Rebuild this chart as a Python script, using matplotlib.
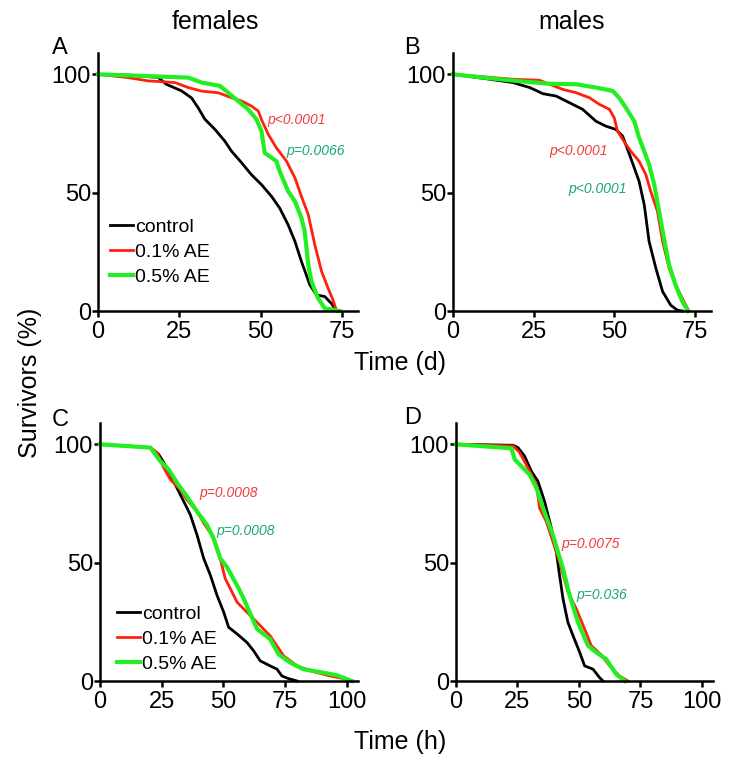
import numpy as np
import matplotlib.pyplot as plt

plt.rcParams['font.family'] = ['Liberation Sans', 'DejaVu Sans']

# Panel A - females, days
a_ctrl_t = [0, 10, 18.5, 21, 25.7, 28.8, 30.8, 32.9, 36, 39, 41.1, 44.2, 47.2, 50.3, 53.4, 55.9, 58.5, 60.6, 62.6, 65.2, 67.2, 69.8, 71.8, 73.4]
a_ctrl_s = [100, 99.6, 98.7, 95.8, 93, 90, 85.9, 81, 76.7, 71.8, 67.5, 62.6, 57.6, 53.4, 48.4, 43.5, 36.4, 29.4, 20.9, 11, 6.8, 6.1, 3.2, 0]
a_low_t = [0, 9.3, 15.5, 19.6, 23.7, 27.8, 31.9, 37, 41.1, 44.2, 47.2, 49.3, 50.3, 52.4, 54.9, 58, 60.6, 62.6, 64.7, 66.7, 68.8, 70.8, 72.3, 73.4]
a_low_s = [100, 98.6, 97.2, 96.9, 96.5, 94.4, 92.9, 92.2, 90.1, 88.7, 86.6, 84.5, 80.9, 74.6, 68.9, 63.3, 56.2, 48.4, 40.7, 28, 16.7, 9.6, 4.7, 0]
a_high_t = [0, 27.8, 31.9, 37.5, 40.1, 43.1, 46.2, 48.8, 50.3, 51.3, 54.9, 55.9, 58.5, 60.6, 62.6, 63.6, 64.7, 65.7, 67.7, 69.8, 74.4]
a_high_s = [100, 98.6, 96.5, 95.1, 92.2, 88.7, 85.2, 80.9, 76, 66.8, 63.3, 59, 50.6, 46.3, 39.3, 33.6, 19.5, 12.4, 5.4, 1.1, 0]

# Panel B - males, days
b_ctrl_t = [0, 9.4, 18.6, 23.8, 27.9, 32, 36.1, 40.2, 44.3, 47.4, 50.5, 52.6, 55.1, 57.7, 59.3, 60.8, 62.9, 65, 67.5, 69.5, 71.1]
b_ctrl_s = [100, 98.3, 96.5, 94.4, 91.8, 90.8, 88, 85.2, 80.2, 78.1, 76.7, 73.9, 64.7, 54.8, 44.9, 29.4, 18.1, 8.2, 2.5, 0.4, 0]
b_low_t = [0, 18.6, 26.8, 29.9, 34.1, 38.2, 42.3, 45.4, 48.5, 50, 51, 52.6, 55.1, 57.7, 59.8, 61.3, 63.4, 65, 67, 69, 71.1, 73.1]
b_low_s = [100, 97.9, 97.5, 95.8, 93.6, 92.2, 90.1, 87.3, 85.2, 81.6, 76, 72.5, 67.5, 63.3, 57.6, 50.6, 42.1, 29.4, 18.1, 11, 5.4, 0]
b_high_t = [0, 9.4, 19.6, 30, 38.2, 44.3, 49.5, 51.5, 53.6, 56.2, 57.7, 59.3, 60.8, 62.4, 63.9, 65.4, 67, 69, 71.1, 72.9]
b_high_s = [100, 98.6, 97.2, 96, 95.8, 94.4, 93, 90.1, 85.9, 80.2, 73.2, 67.5, 61.9, 53.4, 42.1, 30.8, 19.5, 11, 4, 0]

# Panel C - females, hours
c_ctrl_t = [0, 20.4, 23.8, 27.1, 29.8, 33.9, 36.6, 39.3, 42, 44.7, 47.4, 50.1, 52.1, 55.5, 59.5, 62.2, 64.9, 68.9, 71.7, 73.7, 76.4, 79.8]
c_ctrl_s = [100, 98.6, 95.7, 90.1, 84.4, 75.9, 70.2, 61.7, 51.8, 44.7, 36.2, 29.1, 22.7, 19.9, 16.3, 12.8, 8.5, 6.4, 5, 2.1, 1, 0]
c_low_t = [0, 20.4, 23.1, 25.8, 28.5, 32.5, 35.2, 39.3, 42, 45.3, 48.7, 50.7, 52.8, 55.5, 59.5, 63.6, 68.9, 74.4, 79.8, 85.2, 93.3, 98.7, 102]
c_low_s = [100, 98.6, 96.5, 90.1, 85.1, 80.9, 76.6, 71.6, 66.7, 61.7, 51.8, 43.3, 39, 33.3, 29.1, 24.8, 19.1, 10.6, 6.4, 4.3, 2.1, 1, 0]
c_high_t = [0, 20.4, 24.4, 27.8, 31.2, 35.2, 39.3, 43.3, 46, 48.7, 51.4, 55.5, 58.2, 63.6, 68.9, 72.3, 77, 82.3, 90.5, 96, 102]
c_high_s = [100, 98.6, 92.9, 89.4, 83.7, 78, 71.6, 66, 60.3, 51.8, 48.2, 40.4, 34.8, 22, 17.7, 11.3, 7.8, 5, 3.5, 2.4, 0]

# Panel D - males, hours
d_ctrl_t = [0, 23.2, 25.2, 27.9, 30.6, 33.3, 36, 38.8, 40.8, 42.1, 43.5, 45.5, 47.6, 50.3, 52.3, 55.7, 58.4, 59.8]
d_ctrl_s = [100, 99.6, 98.6, 95, 88.7, 84.4, 75.9, 64.5, 54.6, 44.7, 34.8, 24.8, 19.1, 12.1, 6.4, 5, 1.4, 0]
d_low_t = [0, 23.2, 25.9, 29.9, 32.7, 34, 36.7, 39.4, 42.1, 45.5, 48.9, 52.3, 55, 58.8, 62.5, 66.5, 69.9]
d_low_s = [100, 99.3, 96.5, 88.7, 83, 73, 67.4, 58.9, 50.4, 37.6, 30.5, 22, 14.9, 11.3, 6.4, 2.1, 0]
d_high_t = [0, 22.5, 23.9, 29.9, 32.7, 35.4, 39.4, 43.5, 46.2, 49.6, 53.7, 57, 61.1, 65.2, 68.6]
d_high_s = [100, 98.3, 93.6, 87.2, 81.6, 73, 61.7, 47.5, 36.2, 24.8, 14.9, 12.1, 9.2, 2.8, 0]

labels = ['control', '0.1% AE', '0.5% AE']
colors = ['black', '#ff2010', '#22ee22']
widths = [2.0, 2.0, 3.0]

txt_red = '#f03c3c'
txt_green = '#16a878'

fig = plt.figure(figsize=(7.39, 7.69), dpi=100)

def panel(rect, curves, xmax, xticks, pvals, legend_anchor=None):
    ax = fig.add_axes(rect)
    for (t, s), c, w, lab in zip(curves, colors, widths, labels):
        ax.plot(t, s, color=c, lw=w, label=lab, clip_on=False, solid_joinstyle='round')
    ax.set_xlim(0, xmax)
    ax.set_ylim(0, 109)
    ax.set_xticks(xticks)
    ax.set_yticks([0, 50, 100])
    for side in ['top', 'right']:
        ax.spines[side].set_visible(False)
    for side in ['left', 'bottom']:
        ax.spines[side].set_linewidth(1.8)
    ax.tick_params(axis='both', direction='out', length=4, width=1.8, labelsize=17)
    ax.tick_params(axis='y', pad=1)
    ax.tick_params(axis='x', pad=3.5)
    for (x, y, s, c) in pvals:
        ax.text(x, y, s, color=c, fontsize=10, style='italic', ha='center', va='center')
    if legend_anchor is not None:
        ax.legend(loc='upper left', bbox_to_anchor=legend_anchor, frameon=False, fontsize=14,
                  handlelength=1.2, handletextpad=0.1, labelspacing=0.38, borderpad=0, borderaxespad=0)
    return ax

w = 258 / 739
h = 258 / 769

panel([98 / 739, 1 - 311 / 769, w + 2 / 739, h], [(a_ctrl_t, a_ctrl_s), (a_low_t, a_low_s), (a_high_t, a_high_s)],
      80, [0, 25, 50, 75],
      [(61.2, 80.5, 'p<0.0001', txt_red), (67, 67.8, 'p=0.0066', txt_green)], legend_anchor=(0.045, 0.36))
panel([453 / 739, 1 - 311 / 769, w, h], [(b_ctrl_t, b_ctrl_s), (b_low_t, b_low_s), (b_high_t, b_high_s)],
      80, [0, 25, 50, 75],
      [(38.9, 67.4, 'p<0.0001', txt_red), (44.8, 51.7, 'p<0.0001', txt_green)])
panel([100 / 739, 1 - 681 / 769, w, h], [(c_ctrl_t, c_ctrl_s), (c_low_t, c_low_s), (c_high_t, c_high_s)],
      104.5, [0, 25, 50, 75, 100],
      [(52.2, 79.6, 'p=0.0008', txt_red), (59.1, 63.4, 'p=0.0008', txt_green)], legend_anchor=(0.065, 0.293))
panel([456 / 739, 1 - 681 / 769, (713 - 456) / 739, h], [(d_ctrl_t, d_ctrl_s), (d_low_t, d_low_s), (d_high_t, d_high_s)],
      104.5, [0, 25, 50, 75, 100],
      [(54.9, 57.9, 'p=0.0075', txt_red), (59.3, 36.2, 'p=0.036', txt_green)])

# panel letters
for x, y, s in [(60, 48, 'A'), (412, 48, 'B'), (60, 420, 'C'), (413, 418, 'D')]:
    fig.text(x / 739, 1 - y / 769, s, fontsize=17, ha='center', va='center')

fig.text(215 / 739, 1 - 22 / 769, 'females', fontsize=18, ha='center', va='center')
fig.text(572 / 739, 1 - 22 / 769, 'males', fontsize=18, ha='center', va='center')
fig.text(400 / 739, 1 - 363 / 769, 'Time (d)', fontsize=18, ha='center', va='center')
fig.text(400 / 739, 1 - 742 / 769, 'Time (h)', fontsize=18, ha='center', va='center')
fig.text(30 / 739, 1 - 383 / 769, 'Survivors (%)', fontsize=18, ha='center', va='center', rotation=90)

plt.savefig('out.png', dpi=100)
